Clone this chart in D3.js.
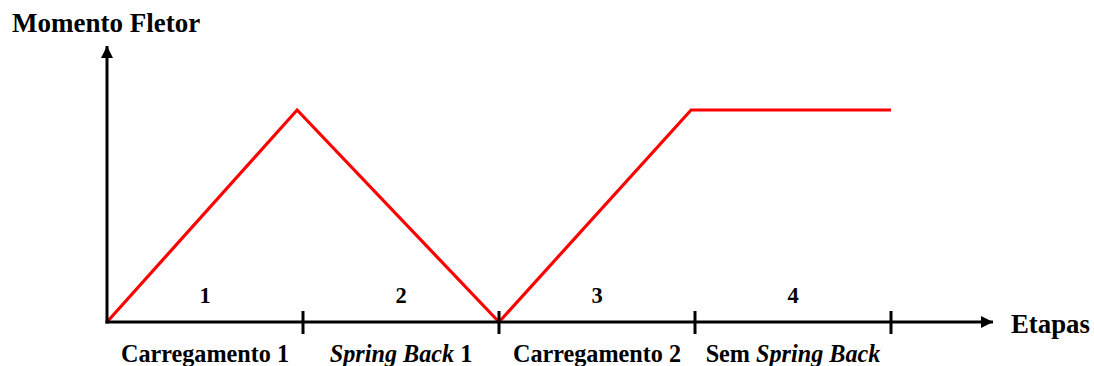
<!DOCTYPE html>
<html><head><meta charset="utf-8">
<script src="https://cdn.jsdelivr.net/npm/d3@7"></script>
<style>body{margin:0;background:#fff}svg{display:block}</style>
</head><body>
<svg id="c" width="1094" height="366"></svg>
<script>
const stageNumbers = ["1", "2", "3", "4"];
const stageLabels = [
  [{t:"Carregamento 1", i:false}],
  [{t:"Spring Back", i:true}, {t:" 1", i:false}],
  [{t:"Carregamento 2", i:false}],
  [{t:"Sem ", i:false}, {t:"Spring Back", i:true}]
];
const momentX = [0, 0.97, 2, 2.98, 4];
const momentY = [0, 1, 0, 1, 1];
const tickValues = [1, 2, 3, 4];

const FONT = "Liberation Serif";
const svg = d3.select("#c");
const x = d3.scaleLinear().domain([0, 4]).range([107, 891]);
const y = d3.scaleLinear().domain([0, 1]).range([322, 110]);

svg.append("defs").append("marker").attr("id","ah").attr("viewBox","0 0 10 10")
  .attr("refX",10).attr("refY",5).attr("markerWidth",12).attr("markerHeight",12)
  .attr("markerUnits","userSpaceOnUse").attr("orient","auto")
  .append("path").attr("d","M0,0 L10,5 L0,10 Z").attr("fill","#000");

// red line
svg.append("path").datum(momentX.map((v,i)=>[v,momentY[i]]))
  .attr("d", d3.line().x(d=>x(d[0])).y(d=>y(d[1])))
  .attr("fill","none").attr("stroke","#ff0000").attr("stroke-width",3.2).attr("stroke-linejoin","miter");

// axes
svg.append("line").attr("x1",x(0)).attr("y1",y(0)+1.5).attr("x2",x(0)).attr("y2",46)
  .attr("stroke","#000").attr("stroke-width",3).attr("marker-end","url(#ah)");
svg.append("line").attr("x1",x(0)-1.5).attr("y1",y(0)).attr("x2",993).attr("y2",y(0))
  .attr("stroke","#000").attr("stroke-width",3).attr("marker-end","url(#ah)");

svg.selectAll("line.tick").data(tickValues).join("line").attr("class","tick")
  .attr("x1",d=>x(d)).attr("x2",d=>x(d)).attr("y1",y(0)-11).attr("y2",y(0)+12)
  .attr("stroke","#000").attr("stroke-width",3);

// stage numbers
svg.selectAll("text.num").data(stageNumbers).join("text").attr("class","num")
  .attr("x",(d,i)=>x(i+0.5)).attr("y",303).attr("text-anchor","middle")
  .attr("font-family",FONT).attr("font-weight","bold")
  .attr("font-size",22.5).text(d=>d);

// stage labels
svg.selectAll("text.lab").data(stageLabels).join("text").attr("class","lab")
  .attr("x",(d,i)=>x(i+0.5)).attr("y",362).attr("text-anchor","middle").attr("font-size",24.2)
  .attr("font-family",FONT).attr("font-weight","bold")
  .each(function(d){
    d3.select(this).selectAll("tspan").data(d).join("tspan")
      .attr("font-style",s=>s.i?"italic":"normal").text(s=>s.t);
  });

svg.append("text").attr("x",12).attr("y",32).attr("font-size",27)
  .attr("font-family",FONT).attr("font-weight","bold").text("Momento Fletor");
svg.append("text").attr("x",1011).attr("y",333).attr("font-size",26.8)
  .attr("font-family",FONT).attr("font-weight","bold").text("Etapas");
</script>
</body></html>
